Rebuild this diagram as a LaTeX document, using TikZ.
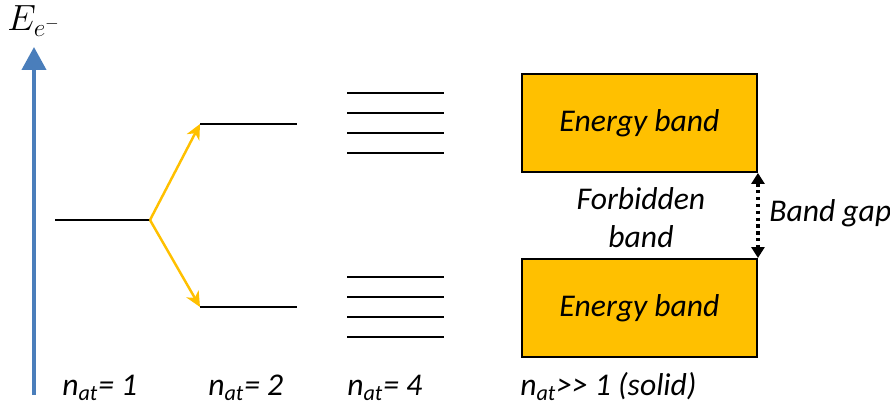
\documentclass[tikz,border=0pt]{standalone}
\usepackage{fontspec}
\setmainfont{Carlito}
\usepackage{xcolor}
\definecolor{axisblue}{RGB}{74,126,187}
\definecolor{bandyellow}{RGB}{255,192,0}
\usepackage{tikz}
\usetikzlibrary{arrows.meta, positioning}

\tikzset{
  lbl/.style={font=\fontsize{18}{21}\selectfont\itshape, inner sep=0pt},
  level/.style={line width=1.5pt, black},
  split/.style={line width=1.4pt, bandyellow, -{Stealth[length=0.3cm, width=0.28cm, inset=0.09cm]}},
  bandbox/.style={draw=black, line width=1.1pt, fill=bandyellow, minimum width=4.7cm, minimum height=1.96cm, font=\fontsize{18}{21}\selectfont\itshape}
}

\begin{document}
\begin{tikzpicture}
  \useasboundingbox (0,0) rectangle (17.8,8.18);

  % Energy axis
  \coordinate (axb) at (0.68,0.28);
  \coordinate (axt) at (0.68,7.24);
  \draw[axisblue, line width=2.3pt, -{Triangle[width=0.48cm, length=0.46cm]}] (axb) -- (axt);
  \node (elabel) at (0.68,7.76) {\fontsize{20}{24}\selectfont$E_{e^-}$};

  % n_at = 1
  \coordinate (l1a) at (1.1,3.78);
  \coordinate (l1b) at (3.0,3.78);
  \draw[level] (l1a) -- (l1b);

  % n_at = 2
  \coordinate (l2ua) at (4.0,5.7);
  \coordinate (l2ub) at (5.94,5.7);
  \coordinate (l2la) at (4.0,2.04);
  \coordinate (l2lb) at (5.94,2.04);
  \draw[level] (l2ua) -- (l2ub);
  \draw[level] (l2la) -- (l2lb);
  \draw[split] (l1b) -- (l2ua);
  \draw[split] (l1b) -- (l2la);

  % n_at = 4
  \foreach \y in {6.32,5.92,5.52,5.12,2.64,2.24,1.84,1.44}
    \draw[level] (6.94,\y) -- (8.88,\y);

  % Solid: energy bands
  \node[bandbox] (upband) at (12.79,5.72) {Energy band};
  \node[bandbox] (lowband) at (12.79,2.02) {Energy band};
  \node[lbl, align=center] (forbid) at (12.82,3.83) {Forbidden\\[1pt]band};
  \draw[line width=1.9pt, dotted, {Triangle[width=0.26cm, length=0.22cm]}-{Triangle[width=0.26cm, length=0.22cm]}] (upband.south east) -- (lowband.north east);
  \node[lbl, anchor=west] (gap) at (15.38,3.92) {Band gap};

  % Bottom labels
  \node[lbl, anchor=base west] (n1) at (1.24,0.27) {n\textsubscript{at}= 1};
  \node[lbl, anchor=base west] (n2) at (4.16,0.27) {n\textsubscript{at}= 2};
  \node[lbl, anchor=base west] (n4) at (6.94,0.27) {n\textsubscript{at}= 4};
  \node[lbl, anchor=base west] (nsol) at (10.4,0.27) {n\textsubscript{at}>{}> 1 (solid)};
\end{tikzpicture}
\end{document}
